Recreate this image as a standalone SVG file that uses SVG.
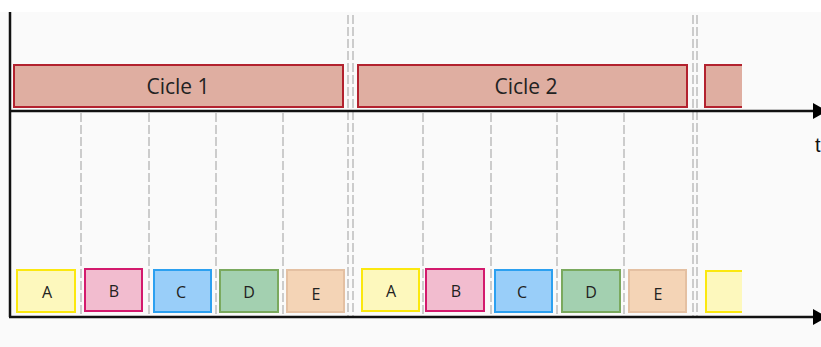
<svg xmlns="http://www.w3.org/2000/svg" width="821" height="347" viewBox="0 0 821 347">
  <defs>
    <marker id="arrow" markerWidth="14" markerHeight="16" refX="0" refY="8" orient="auto" markerUnits="userSpaceOnUse">
      <path d="M0,0 L14,8 L0,16 Z" fill="#000"/>
    </marker>
    <style>
      .grid { stroke: #b4b4b4; stroke-width: 1.3; stroke-dasharray: 9 3; fill: none; }
      .axis { stroke: #111; stroke-width: 2.5; fill: none; }
      .cycle rect { fill: #dfaea1; stroke: #b3222f; stroke-width: 2; }
      .cycle text { font-family: "Open Sans", "Noto Sans", sans-serif; font-size: 21px; fill: #222; text-anchor: middle; }
      .task text { font-family: "Open Sans", "Noto Sans", sans-serif; font-size: 16px; fill: #222; text-anchor: middle; }
      .task rect { stroke-width: 2; }
      .a rect { fill: #fdf8bd; stroke: #fbe80f; }
      .b rect { fill: #f2bccf; stroke: #d31a6d; }
      .c rect { fill: #99cef9; stroke: #2ca0f0; }
      .d rect { fill: #a3d0b0; stroke: #7aa95e; }
      .e rect { fill: #f4d4b6; stroke: #e4c0a2; }
    </style>
  </defs>

  <rect x="0" y="0" width="821" height="347" fill="#ffffff"/>
  <rect x="0" y="12" width="821" height="335" fill="#fafafa"/>

  <!-- time subdivisions -->
  <g id="grid">
    <line class="grid" x1="81" y1="113" x2="81" y2="316"/>
    <line class="grid" x1="149" y1="113" x2="149" y2="316"/>
    <line class="grid" x1="216" y1="113" x2="216" y2="316"/>
    <line class="grid" x1="283" y1="113" x2="283" y2="316"/>
    <line class="grid" x1="423" y1="113" x2="423" y2="316"/>
    <line class="grid" x1="491" y1="113" x2="491" y2="316"/>
    <line class="grid" x1="557" y1="113" x2="557" y2="316"/>
    <line class="grid" x1="624" y1="113" x2="624" y2="316"/>
    <!-- cycle boundaries -->
    <line class="grid" x1="348" y1="15" x2="348" y2="316"/>
    <line class="grid" x1="353" y1="15" x2="353" y2="316"/>
    <line class="grid" x1="693" y1="15" x2="693" y2="316"/>
    <line class="grid" x1="697" y1="15" x2="697" y2="316"/>
  </g>

  <g id="cycle1" class="cycle">
    <rect x="14" y="65" width="329" height="42"/>
    <text x="178" y="94">Cicle 1</text>
  </g>
  <g id="cycle2" class="cycle">
    <rect x="358" y="65" width="329" height="42"/>
    <text x="526" y="94">Cicle 2</text>
  </g>
  <g id="cycle3" class="cycle">
    <rect x="705" y="65" width="38" height="42"/>
    <rect x="742" y="64" width="4" height="44" style="fill:#fafafa;stroke:none"/>
  </g>

  <g id="taskA1" class="task a"><rect x="17" y="270" width="58" height="42"/><text x="47" y="298">A</text></g>
  <g id="taskB1" class="task b"><rect x="85" y="269" width="57" height="42"/><text x="114" y="297">B</text></g>
  <g id="taskC1" class="task c"><rect x="154" y="270" width="57" height="42"/><text x="181" y="298">C</text></g>
  <g id="taskD1" class="task d"><rect x="220" y="270" width="58" height="42"/><text x="249" y="298">D</text></g>
  <g id="taskE1" class="task e"><rect x="287" y="270" width="57" height="42"/><text x="316" y="300">E</text></g>
  <g id="taskA2" class="task a"><rect x="362" y="269" width="57" height="42"/><text x="391" y="297">A</text></g>
  <g id="taskB2" class="task b"><rect x="426" y="269" width="58" height="42"/><text x="456" y="297">B</text></g>
  <g id="taskC2" class="task c"><rect x="495" y="270" width="57" height="42"/><text x="522" y="298">C</text></g>
  <g id="taskD2" class="task d"><rect x="562" y="270" width="58" height="42"/><text x="591" y="298">D</text></g>
  <g id="taskE2" class="task e"><rect x="629" y="270" width="57" height="42"/><text x="658" y="300">E</text></g>
  <g id="taskA3" class="task a">
    <rect x="706" y="271" width="37" height="41"/>
    <rect x="742" y="268" width="4" height="46" style="fill:#fafafa;stroke:none"/>
  </g>

  <!-- axes -->
  <g id="axes">
    <line class="axis" x1="10" y1="12" x2="10" y2="317"/>
    <line class="axis" x1="9" y1="111" x2="813" y2="111" marker-end="url(#arrow)"/>
    <line class="axis" x1="9" y1="317" x2="813" y2="317" marker-end="url(#arrow)"/>
    <text x="815" y="152" font-family="Liberation Sans, Arial, sans-serif" font-size="20" fill="#111">t</text>
  </g>
</svg>
